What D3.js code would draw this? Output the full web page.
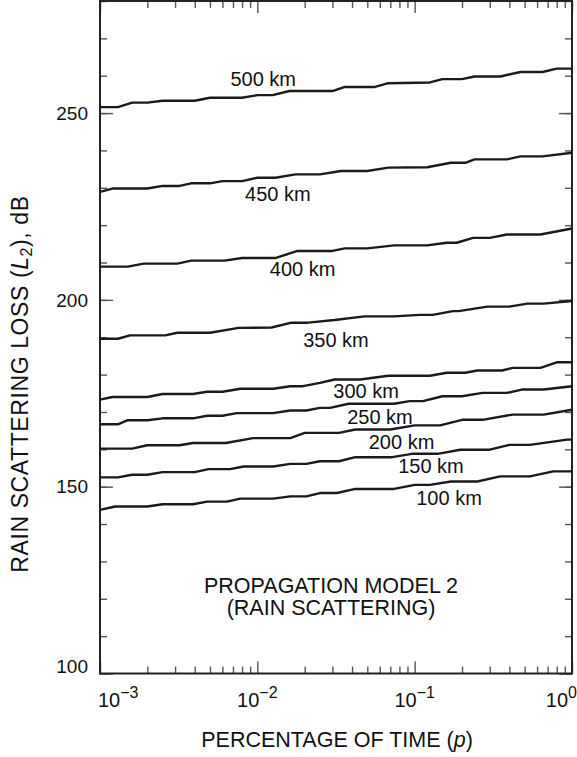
<!DOCTYPE html>
<html>
<head>
<meta charset="utf-8">
<script src="https://cdn.jsdelivr.net/npm/d3@7"></script>
<style>
  html, body { margin: 0; padding: 0; background: #fff; }
  svg { display: block; font-family: "Liberation Sans", Arial, Helvetica, sans-serif; }
</style>
</head>
<body>
<svg id="chart" width="577" height="757"></svg>
<script>
// Rain scattering loss L2 (dB) versus percentage of time p, one curve per path distance.
const km500 = [[0.001,251.6],[0.0013,251.6],[0.0016,252.8],[0.002,252.8],[0.0025,253.3],[0.004,253.3],[0.005,254.1],[0.008,254.1],[0.01,254.8],[0.0125,254.8],[0.016,255.9],[0.03,255.9],[0.036,257.0],[0.056,257.0],[0.068,258.0],[0.125,258.2],[0.15,259.1],[0.2,259.1],[0.24,259.8],[0.35,259.8],[0.47,261.0],[0.65,261.0],[0.8,261.9],[1,261.9]];
const km450 = [[0.001,228.9],[0.0012,229.8],[0.002,229.8],[0.0025,230.5],[0.0032,230.5],[0.0038,231.2],[0.005,231.2],[0.006,231.8],[0.008,231.8],[0.01,232.7],[0.013,232.7],[0.0175,233.6],[0.025,233.6],[0.034,234.5],[0.05,234.5],[0.068,235.4],[0.12,235.5],[0.17,236.7],[0.21,236.7],[0.24,237.6],[0.385,237.6],[0.47,238.4],[0.65,238.4],[1,239.4]];
const km400 = [[0.001,208.9],[0.0015,208.9],[0.0019,209.7],[0.0031,209.7],[0.0038,210.5],[0.0062,210.5],[0.008,211.2],[0.013,211.2],[0.018,213.1],[0.03,213.1],[0.036,213.8],[0.05,213.8],[0.074,214.6],[0.12,214.6],[0.16,215.3],[0.185,215.3],[0.235,216.6],[0.3,216.6],[0.385,217.5],[0.63,217.5],[1,219.1]];
const km350 = [[0.001,189.6],[0.0013,189.6],[0.00155,190.5],[0.0026,190.5],[0.0031,191.2],[0.005,191.2],[0.0076,192.5],[0.0123,192.6],[0.0165,193.9],[0.021,193.9],[0.031,194.6],[0.048,195.6],[0.074,195.6],[0.108,196.0],[0.13,196.0],[0.175,197.0],[0.19,197.0],[0.29,198.2],[0.4,198.2],[0.52,199.0],[0.66,199.0],[1,199.7]];
const km300 = [[0.001,173.3],[0.0012,174.0],[0.002,174.0],[0.0025,174.8],[0.0039,174.8],[0.0048,175.4],[0.006,175.4],[0.0078,176.2],[0.0126,176.2],[0.0162,176.9],[0.0195,176.9],[0.025,177.8],[0.031,178.7],[0.045,178.7],[0.068,179.7],[0.125,179.7],[0.16,180.5],[0.21,180.5],[0.25,181.1],[0.36,181.1],[0.42,181.8],[0.63,181.8],[0.8,183.3],[1,183.3]];
const km250 = [[0.001,166.7],[0.0013,166.7],[0.0015,167.8],[0.002,167.8],[0.0025,168.3],[0.0039,168.3],[0.0048,169.0],[0.006,169.0],[0.0074,169.7],[0.0126,169.7],[0.0162,170.4],[0.0205,170.4],[0.025,171.1],[0.029,171.1],[0.038,172.2],[0.074,172.2],[0.093,172.9],[0.113,172.9],[0.15,174.2],[0.2,174.2],[0.27,175.1],[0.385,175.1],[0.48,176.0],[0.66,176.0],[1,176.9]];
const km200 = [[0.001,160.2],[0.0016,160.2],[0.002,161.1],[0.0032,161.1],[0.0039,161.7],[0.0063,161.7],[0.0094,163.0],[0.0162,163.0],[0.02,164.4],[0.033,164.4],[0.042,165.3],[0.07,165.3],[0.1,166.4],[0.145,166.4],[0.2,167.9],[0.27,167.9],[0.42,169.3],[0.66,169.3],[1,170.6]];
const km150 = [[0.001,152.5],[0.0013,152.5],[0.0016,153.2],[0.002,153.2],[0.0025,153.9],[0.004,153.9],[0.0049,154.7],[0.0067,154.7],[0.0082,155.4],[0.0126,155.4],[0.0162,156.1],[0.0205,156.1],[0.025,156.8],[0.033,156.8],[0.042,157.9],[0.072,157.9],[0.096,158.8],[0.14,158.8],[0.195,159.9],[0.3,159.9],[0.4,161.2],[0.54,161.2],[0.93,162.6],[1,162.6]];
const km100 = [[0.001,143.8],[0.00125,144.7],[0.002,144.7],[0.0025,145.3],[0.0039,145.3],[0.0048,146.0],[0.0064,146.0],[0.0078,146.8],[0.0126,146.8],[0.0162,147.4],[0.0205,147.4],[0.025,148.3],[0.032,148.3],[0.042,149.4],[0.074,149.4],[0.1,150.5],[0.125,150.5],[0.17,151.4],[0.25,151.4],[0.35,152.75],[0.54,152.75],[0.76,154.1],[1,154.1]];

const curveNames = ["500 km","450 km","400 km","350 km","300 km","250 km","200 km","150 km","100 km"];
const curveData  = [km500, km450, km400, km350, km300, km250, km200, km150, km100];
// label anchor (p, L) for each curve name: centre of text, baseline
const labelAnchors = [[0.0109,257.2],[0.0135,226.4],[0.0194,206.3],[0.0316,187.5],[0.0491,173.8],[0.0602,166.9],[0.0825,160.2],[0.127,153.7],[0.1653,145.2]];

const yMajorTicks = [100, 150, 200, 250];
const yMinorTicks = d3.range(100, 281, 10);
const xDecades = [1e-3, 1e-2, 1e-1, 1];
const xDecadeExp = ["\u22123", "\u22122", "\u22121", "0"];
const xMinorTicks = [];
[1e-3, 1e-2, 1e-1].forEach(d => { for (let m = 2; m <= 9; m++) xMinorTicks.push(m * d); });

const svg = d3.select("#chart");
const plotLeft = 100, plotRight = 572, plotTop = 1, plotBottom = 673.5;

const x = d3.scaleLog().domain([1e-3, 1]).range([plotLeft, plotRight]);
const y = d3.scaleLinear().domain([100, 280]).range([plotBottom, plotTop]);

const tickColor = "#555", frameColor = "#222";

function tickAxis(axis, values, size, tx, ty) {
  const g = svg.append("g")
    .attr("transform", `translate(${tx},${ty})`)
    .call(axis.tickValues(values).tickSize(size).tickFormat(""));
  g.select(".domain").remove();
  g.selectAll(".tick line").attr("stroke", tickColor).attr("stroke-width", 1.4);
  g.selectAll(".tick text").remove();
  return g;
}

// inward ticks on all four sides
tickAxis(d3.axisLeft(y), yMinorTicks, -7, plotLeft, 0);
tickAxis(d3.axisLeft(y), yMajorTicks, -13, plotLeft, 0);
tickAxis(d3.axisRight(y), yMinorTicks, -7, plotRight, 0);
tickAxis(d3.axisRight(y), yMajorTicks, -13, plotRight, 0);
tickAxis(d3.axisBottom(x), xMinorTicks, -7, 0, plotBottom);
tickAxis(d3.axisBottom(x), xDecades, -12, 0, plotBottom);
tickAxis(d3.axisTop(x), xMinorTicks, -7, 0, plotTop);
tickAxis(d3.axisTop(x), xDecades, -12, 0, plotTop);

// frame
svg.append("rect")
  .attr("x", plotLeft).attr("y", plotTop)
  .attr("width", plotRight - plotLeft).attr("height", plotBottom - plotTop)
  .attr("fill", "none").attr("stroke", frameColor).attr("stroke-width", 2);

// y tick labels
svg.append("g").selectAll("text").data(yMajorTicks).join("text")
  .attr("x", plotLeft - 12)
  .attr("y", d => d === 100 ? plotBottom - 0.5 : y(d))
  .attr("dy", d => d === 100 ? 0 : "0.35em")
  .attr("text-anchor", "end")
  .attr("font-size", 19)
  .attr("fill", "#111")
  .text(d => d);

// x tick labels: 10 with superscript exponent
const xl = svg.append("g").selectAll("text").data(xDecades).join("text")
  .attr("x", (d, i) => i === 0 ? plotLeft - 2 : (i === 3 ? 577 : x(d)))
  .attr("y", 707)
  .attr("text-anchor", (d, i) => i === 0 ? "start" : (i === 3 ? "end" : "middle"))
  .attr("font-size", 20)
  .attr("fill", "#111");
xl.append("tspan").text("10");
xl.append("tspan").attr("dy", -9).attr("font-size", 16).text((d, i) => xDecadeExp[i]);

// curves
const line = d3.line().x(d => x(d[0])).y(d => y(d[1]));
svg.append("g").selectAll("path").data(curveData).join("path")
  .attr("d", line)
  .attr("fill", "none")
  .attr("stroke", "#1a1a1a")
  .attr("stroke-width", 2.4)
  .attr("stroke-linejoin", "round");

// curve labels
svg.append("g").selectAll("text").data(curveNames).join("text")
  .attr("x", (d, i) => x(labelAnchors[i][0]))
  .attr("y", (d, i) => y(labelAnchors[i][1]))
  .attr("text-anchor", "middle")
  .attr("font-size", 20)
  .attr("fill", "#111")
  .text(d => d);

// model caption
const cap = svg.append("text")
  .attr("x", 331).attr("y", 593)
  .attr("text-anchor", "middle").attr("font-size", 21.5).attr("fill", "#111");
cap.append("tspan").attr("x", 331).text("PROPAGATION MODEL 2");
cap.append("tspan").attr("x", 331).attr("dy", 22).text("(RAIN SCATTERING)");

// x axis title
const xt = svg.append("text")
  .attr("x", 337).attr("y", 747)
  .attr("text-anchor", "middle").attr("font-size", 21.5).attr("fill", "#111");
xt.append("tspan").text("PERCENTAGE OF TIME (");
xt.append("tspan").attr("font-style", "italic").text("p");
xt.append("tspan").text(")");

// y axis title
const yt = svg.append("text")
  .attr("transform", "translate(28,384) rotate(-90)")
  .attr("text-anchor", "middle").attr("font-size", 23).attr("letter-spacing", 0.6).attr("fill", "#111");
yt.append("tspan").text("RAIN SCATTERING LOSS (");
yt.append("tspan").attr("font-style", "italic").text("L");
yt.append("tspan").attr("font-size", 16).attr("dy", 4).text("2");
yt.append("tspan").attr("dy", -4).text("), dB");
</script>
</body>
</html>
